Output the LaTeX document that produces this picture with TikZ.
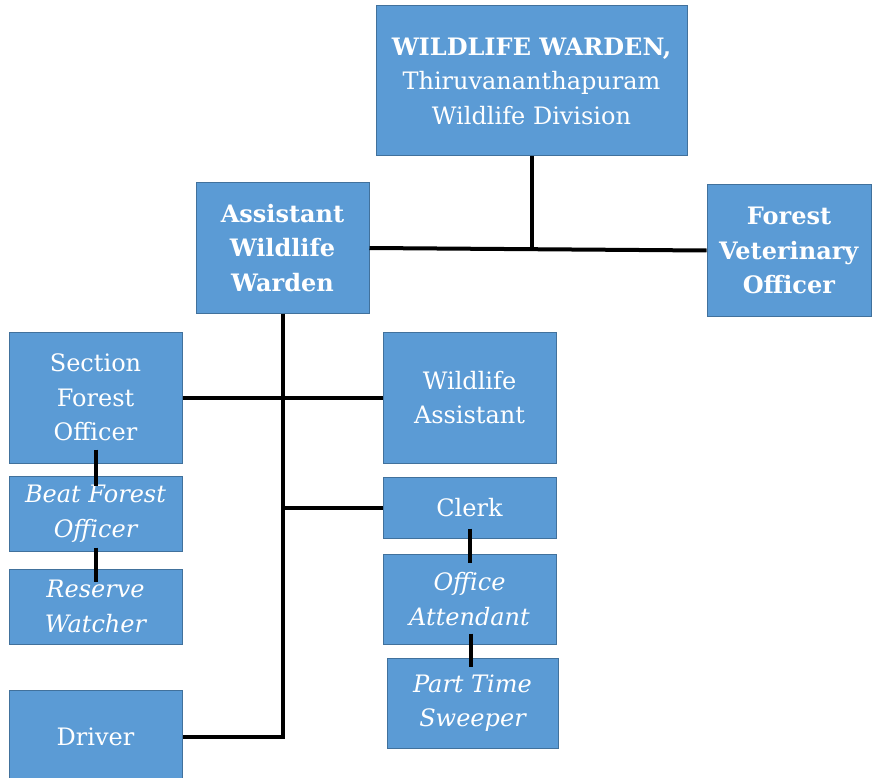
\documentclass[tikz,border=0pt]{standalone}
\usepackage{fontspec}
\setmainfont{DejaVu Serif}
\definecolor{boxfill}{HTML}{5B9BD5}
\definecolor{boxline}{HTML}{41719C}
\begin{document}
\begin{tikzpicture}[x=1pt,y=-1pt]
	\useasboundingbox (0,0) rectangle (872,778);
	\begin{scope}[every node/.style={font=\fontsize{24}{34.5}\selectfont},line width=4pt]
		\tikzstyle{post}=[draw=boxline,fill=boxfill,line width=1pt,text=white,align=center,inner sep=0pt,minimum width=173pt];
		\tikzstyle{tie}=[line width=4pt];
		\path (531.5, 81  ) node [post,minimum width=311pt,minimum height=150pt] (warden) {\textbf{WILDLIFE WARDEN,}\\Thiruvananthapuram\\Wildlife Division};
		\path (282.5,248  ) node [post,minimum height=130pt] (awarden) {\textbf{Assistant}\\\textbf{Wildlife}\\\textbf{Warden}};
		\path (789  ,250.5) node [post,minimum width=164pt,minimum height=131pt] (vet) {\textbf{Forest}\\\textbf{Veterinary}\\\textbf{Officer}};
		\path ( 95.5,397.5) node [post,minimum height=131pt] (sfo) {Section\\Forest\\Officer};
		\path (469.5,397.5) node [post,minimum height=131pt] (wassist) {Wildlife\\Assistant};
		\path ( 95.5,513.5) node [post,minimum height=75pt] (bfo) {\itshape Beat Forest\\\itshape Officer};
		\path ( 95.5,606.5) node [post,minimum height=75pt] (watcher) {\itshape Reserve\\\itshape Watcher};
		\path (469.5,507.5) node [post,minimum height=61pt] (clerk) {Clerk};
		\path (469.5,599  ) node [post,minimum height=90pt] (attendant) {\itshape Office\\\itshape Attendant};
		\path (472.5,703  ) node [post,minimum width=171pt,minimum height=90pt] (sweeper) {\itshape Part Time\\\itshape Sweeper};
		\path ( 95.5,737  ) node [post,minimum height=94pt] (driver) {Driver};

		\draw[tie] (warden.south) -- (warden.south |- awarden.east);
		\draw[tie] (awarden.east) -- (vet.west);
		\draw[tie] (awarden.south) |- (driver.east);
		\draw[tie] (sfo.east) -- (wassist.west);
		\draw[tie] (clerk.west) -- (clerk.west -| awarden.south);
		\draw[tie] ([yshift=14pt]sfo.south) -- ([yshift=-10pt]bfo.north);
		\draw[tie] ([yshift=4pt]bfo.south) -- ([yshift=-13pt]watcher.north);
		\draw[tie] ([yshift=10pt]clerk.south) -- ([yshift=-9pt]attendant.north);
		\draw[tie] ([xshift=1.5pt,yshift=11pt]attendant.south) -- ([xshift=-1.5pt,yshift=-9pt]sweeper.north);
	\end{scope}
\end{tikzpicture}
\end{document}
